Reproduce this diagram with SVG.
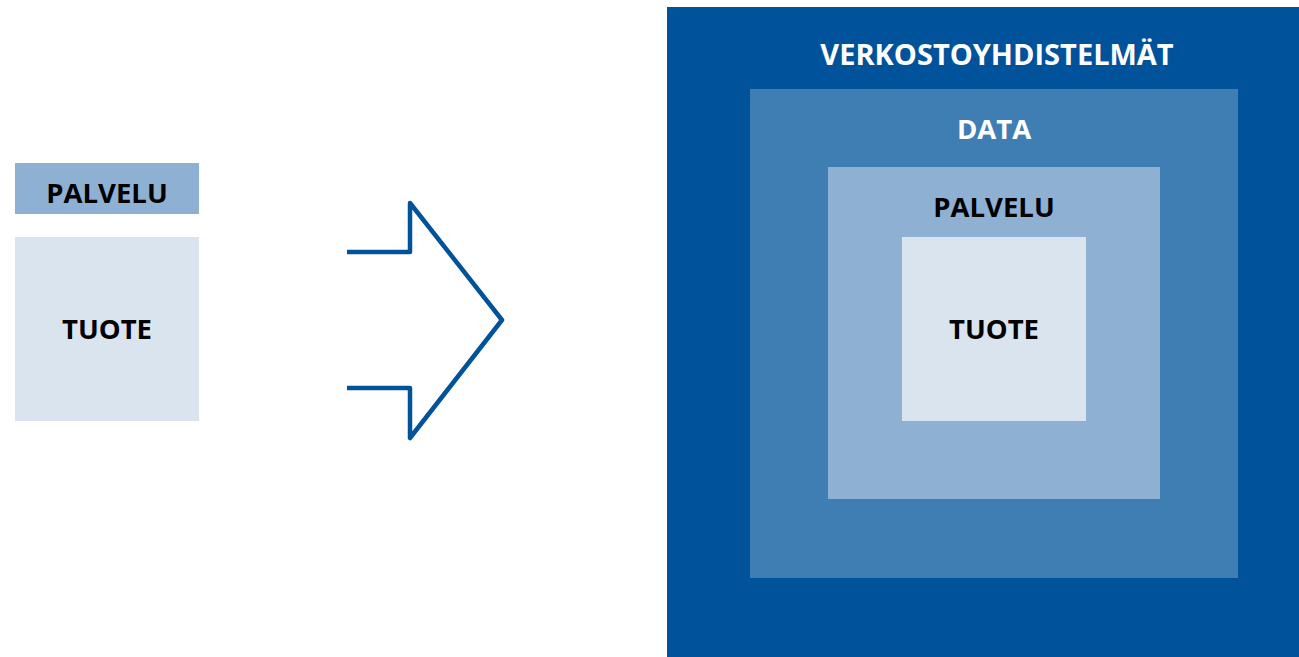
<svg xmlns="http://www.w3.org/2000/svg" width="1299" height="657" viewBox="0 0 1299 657">
<style>
text{font-family:"Open Sans","Liberation Sans",sans-serif;font-weight:700;text-anchor:middle;font-size:27.5px}
.dark{fill:#000}
.light{fill:#fff}
</style>
<rect width="1299" height="657" fill="#fff"/>
<g id="left-palvelu">
<rect x="15" y="163" width="184" height="51" fill="#8db0d3"/>
<text x="107" y="203" class="dark">PALVELU</text>
</g>
<g id="left-tuote">
<rect x="15" y="237" width="184" height="184" fill="#dae4ef"/>
<text x="107" y="339" class="dark">TUOTE</text>
</g>
<g id="connectors">
<path d="M347 252 H410 V203 L502 320 L410 438 V388 H347" fill="none" stroke="#00539b" stroke-width="4.5" stroke-linejoin="round"/>
</g>
<g id="verkostoyhdistelmat">
<rect x="667" y="7" width="632" height="650" fill="#00529b"/>
<text x="997" y="65" font-size="29" class="light" style="font-size:29px">VERKOSTOYHDISTELMÄT</text>
</g>
<g id="data">
<rect x="750" y="89" width="488" height="489" fill="#3f7eb3"/>
<text x="994" y="139" class="light">DATA</text>
</g>
<g id="palvelu">
<rect x="828" y="167" width="332" height="332" fill="#8db0d3"/>
<text x="994" y="217" class="dark">PALVELU</text>
</g>
<g id="tuote">
<rect x="902" y="237" width="184" height="184" fill="#dae4ef"/>
<text x="994" y="339" class="dark">TUOTE</text>
</g>
</svg>
